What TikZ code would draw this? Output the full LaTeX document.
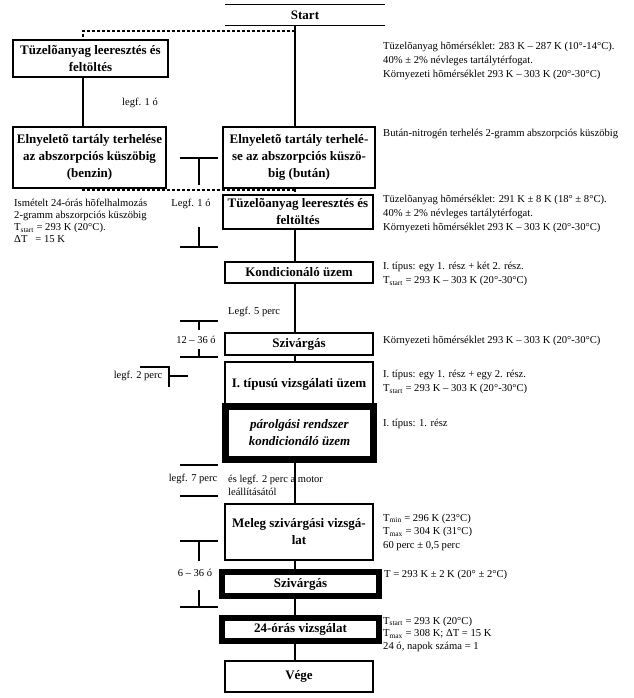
\documentclass[tikz,border=0pt]{standalone}
\usepackage{fontspec}
\setmainfont{Liberation Serif}
\begin{document}
\begin{tikzpicture}[x=1pt,y=-1pt,
  ln/.style={line width=1.2pt},
  dsh/.style={line width=1.2pt, dash pattern=on 3pt off 2pt},
  box/.style={draw, line width=1.2pt, rectangle, inner sep=0pt, align=center,
    font=\fontsize{13}{17}\selectfont\bfseries},
  thickbox/.style={box, line width=6pt},
  itbox/.style={box, line width=7pt, font=\fontsize{13}{17}\selectfont\bfseries\itshape},
  side/.style={anchor=west, align=left, inner sep=0pt, font=\fontsize{10.6}{14}\selectfont},
  lab/.style={inner sep=0pt, font=\fontsize{10.5}{13}\selectfont}]

\useasboundingbox (0,0) rectangle (633,698);
\coordinate (m) at (295,0);
\coordinate (l) at (83,0);

% Start
\node[box, draw=none, minimum width=158pt, minimum height=20pt] (start) at (305,15) {Start};
\draw[ln] (start.north west) -- (start.north east);
\draw[ln] (start.south west) -- (start.south east);

% boxes
\node[box, minimum width=155pt, minimum height=37pt] (lb1) at (90.5,58.5) {Tüzelõanyag leeresztés és\\feltöltés};
\node[box, minimum width=153pt, minimum height=61pt] (lb2) at (89.5,157.5) {Elnyeletõ tartály terhelése\\az abszorpciós küszöbig\\(benzin)};
\node[box, minimum width=152pt, minimum height=61pt] (rb2) at (299,157.5) {Elnyeletõ tartály terhelé-\\se az abszorpciós küszö-\\big (bután)};
\node[box, minimum width=150pt, minimum height=34pt] (rb3) at (298,212) {Tüzelõanyag leeresztés és\\feltöltés};
\node[box, minimum width=148pt, minimum height=21pt] (kond) at (299,272.5) {Kondicionáló üzem};
\node[box, minimum width=148pt, minimum height=22pt] (sz1) at (299,344) {Szivárgás};
\node[box, minimum width=148pt, minimum height=44pt] (typ1) at (299,384) {I. típusú vizsgálati üzem};
\node[itbox, minimum width=148pt, minimum height=53pt] (paro) at (299.5,433) {párolgási rendszer\\kondicionáló üzem};
\node[box, minimum width=148pt, minimum height=56pt] (meleg) at (299,532) {Meleg szivárgási vizsgá-\\lat};
\node[thickbox, minimum width=157pt, minimum height=24pt] (sz2) at (300.5,584) {Szivárgás};
\node[thickbox, minimum width=157pt, minimum height=23pt] (v24) at (300.5,629.5) {24-órás vizsgálat};
\node[box, minimum width=148pt, minimum height=31pt] (vege) at (299,676.5) {Vége};

% connectors
\coordinate (d1) at (83,31);
\coordinate (d2) at (83,190);
\draw[ln] (m |- start.south) -- (m |- rb2.north);
\draw[dsh] (m |- d1) -- (d1) -- (l |- lb1.north);
\draw[ln] (l |- lb1.south) -- (l |- lb2.north);
\draw[dsh] (l |- lb2.south) -- (d2) -- (m |- d2);
\draw[dsh] (m |- rb2.south) -- (m |- rb3.north);
\draw[ln] (m |- rb3.south) -- (m |- kond.north);
\draw[ln] (m |- kond.south) -- (m |- sz1.north);
\draw[ln] (m |- sz1.south) -- (m |- typ1.north);
\draw[ln] (m |- paro.south) -- (m |- meleg.north);
\draw[ln] (m |- meleg.south) -- (m |- sz2.north);
\draw[ln] (m |- sz2.south) -- (m |- v24.north);
\draw[ln] (m |- v24.south) -- (m |- vege.north);

% side texts
\node[side] (s1) at (383,61) {Tüzelõanyag hõmérséklet: 283 K – 287 K (10°-14°C).\\40\% ± 2\% névleges tartálytérfogat.\\Környezeti hõmérséklet 293 K – 303 K (20°-30°C)};
\node[side] (s2) at (383,134) {Bután-nitrogén terhelés 2-gramm abszorpciós küszöbig};
\node[side] (s3) at (383,214) {Tüzelõanyag hõmérséklet: 291 K ± 8 K (18° ± 8°C).\\40\% ± 2\% névleges tartálytérfogat.\\Környezeti hõmérséklet 293 K – 303 K (20°-30°C)};
\node[side] (s4) at (383,274) {I. típus: egy 1. rész + két 2. rész.\\T\textsubscript{start} = 293 K – 303 K (20°-30°C)};
\node[side] (s5) at (383,341) {Környezeti hõmérséklet 293 K – 303 K (20°-30°C)};
\node[side] (s6) at (383,382) {I. típus: egy 1. rész + egy 2. rész.\\T\textsubscript{start} = 293 K – 303 K (20°-30°C)};
\node[side] (s7) at (383,424) {I. típus: 1. rész};
\node[side, font=\fontsize{10.6}{13.5}\selectfont] (s8) at (383,532) {T\textsubscript{min} = 296 K (23°C)\\T\textsubscript{max} = 304 K (31°C)\\60 perc ± 0,5 perc};
\node[side] (s9) at (384,575) {T = 293 K ± 2 K (20° ± 2°C)};
\node[side, font=\fontsize{10.6}{12.5}\selectfont] (s10) at (383,634) {T\textsubscript{start} = 293 K (20°C)\\T\textsubscript{max} = 308 K; ΔT = 15 K\\24 ó, napok száma = 1};
\node[side, font=\fontsize{10.6}{12}\selectfont] (lt) at (14,221) {Ismételt 24-órás hõfelhalmozás\\2-gramm abszorpciós küszöbig\\T\textsubscript{start} = 293 K (20°C).\\ΔT \ \ = 15 K};

% time markers
\node[lab] (t0) at (140,103) {legf. 1 ó};

\draw[ln] (180,158) -- (218,158) (199,158) -- (199,185);
\node[lab] (t1) at (191,204) {Legf. 1 ó};
\draw[ln] (199,227) -- (199,247) (180,247) -- (218,247);

\node[lab, anchor=west] (t2) at (228,312) {Legf. 5 perc};

\draw[ln] (180,321) -- (218,321) (199,321) -- (199,330);
\node[lab] (t3) at (196,340) {12 – 36 ó};
\draw[ln] (199,349) -- (199,357) (180,357) -- (218,357);

\node[lab] (t4) at (138,376) {legf. 2 perc};
\draw[ln] (140,367) -- (169,367) -- (169,387);
\draw[ln] (169,376) -- (188,376);

\draw[ln] (180,465) -- (218,465);
\draw[ln] (180,496) -- (218,496);
\node[lab] (t5) at (193,479) {legf. 7 perc};
\node[lab, anchor=west, align=left] (t6) at (228,485.5) {és legf. 2 perc a motor\\leállításától};

\draw[ln] (180,541) -- (218,541) (199,541) -- (199,561);
\node[lab] (t7) at (195,573) {6 – 36 ó};
\draw[ln] (199,590) -- (199,607) (180,607) -- (218,607);

\end{tikzpicture}
\end{document}
